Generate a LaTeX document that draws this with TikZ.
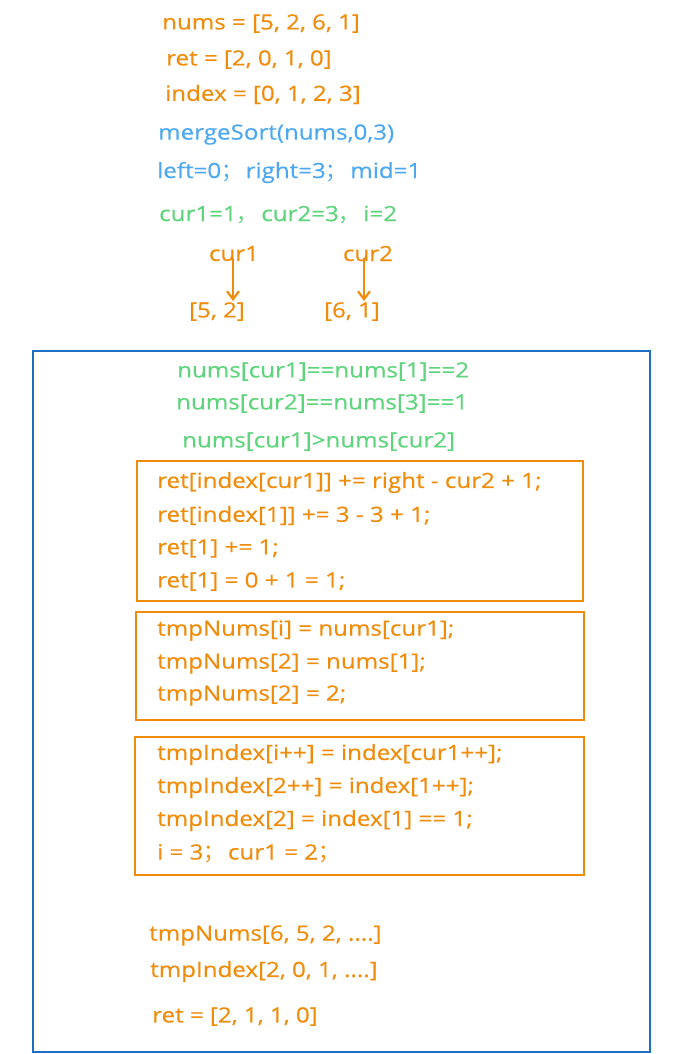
\documentclass[tikz,border=0pt]{standalone}
\usepackage{fontspec}
\setmainfont{Open Sans}[FakeStretch=1.15,FakeBold=0.4]
\newfontfamily\cjk{Noto Sans CJK SC}
\usetikzlibrary{arrows.meta}
\definecolor{orng}{HTML}{F08C0C}
\definecolor{bluet}{HTML}{4CA8F0}
\definecolor{grn}{HTML}{5ED47C}
\definecolor{frameblue}{HTML}{1E6FC4}
\begin{document}
\begin{tikzpicture}[x=1pt,y=-1pt,
  txt/.style={anchor=west,inner sep=0pt,yshift=-1.5pt,font=\fontsize{21}{24}\selectfont},
  otxt/.style={txt,text=orng},
  btxt/.style={txt,text=bluet},
  gtxt/.style={txt,text=grn},
  obox/.style={draw=orng,line width=2pt},
  arr/.style={draw=orng,line width=2.2pt,-{Straight Barb[length=8pt,width=12pt]}}]
\useasboundingbox (0,0) rectangle (687,1054);
% header
\node[otxt] (n1) at (162,22) {nums = [5, 2, 6, 1]};
\node[otxt] (n2) at (166,58) {ret = [2, 0, 1, 0]};
\node[otxt] (n3) at (165,93) {index = [0, 1, 2, 3]};
\node[btxt] (m1) at (158,133) {mergeSort(nums,0,3)};
\node[btxt] (m2) at (157,171) {left=0{\cjk ；}\,right=3{\cjk ；}\,mid=1};
\node[gtxt] (g1) at (159,213) {cur1=1{\cjk ，}\,cur2=3{\cjk ，}\,i=2};
\node[otxt,anchor=center] (c1) at (234,252) {cur1};
\node[otxt,anchor=center] (c2) at (368,252) {cur2};
\node[otxt,anchor=center] (a1) at (217,310) {[5, 2]};
\node[otxt,anchor=center] (a2) at (352,310) {[6, 1]};
\draw[arr] ([xshift=-1pt,yshift=-4pt]c1.center) -- ([xshift=16pt,yshift=1pt]a1.north);
\draw[arr] ([xshift=-4pt,yshift=-4pt]c2.center) -- ([xshift=12pt,yshift=1pt]a2.north);
% frame
\draw[frameblue,line width=2pt] (33,351) rectangle (650,1052);
\node[gtxt] (e1) at (177,370) {nums[cur1]==nums[1]==2};
\node[gtxt] (e2) at (176,402) {nums[cur2]==nums[3]==1};
\node[gtxt] (e3) at (182,440) {nums[cur1]>nums[cur2]};
% box 1
\draw[obox] (137,461) rectangle (583,601);
\node[otxt] (b11) at (157,481) {ret[index[cur1]] += right - cur2 + 1;};
\node[otxt] (b12) at (157,514) {ret[index[1]] += 3 - 3 + 1;};
\node[otxt] (b13) at (157,547) {ret[1] += 1;};
\node[otxt] (b14) at (157,580) {ret[1] = 0 + 1 = 1;};
% box 2
\draw[obox] (136,612) rectangle (584,720);
\node[otxt] (b21) at (157,629) {tmpNums[i] = nums[cur1];};
\node[otxt] (b22) at (157,662) {tmpNums[2] = nums[1];};
\node[otxt] (b23) at (157,694) {tmpNums[2] = 2;};
% box 3
\draw[obox] (135,737) rectangle (584,875);
\node[otxt] (b31) at (157,753) {tmpIndex[i++] = index[cur1++];};
\node[otxt] (b32) at (157,786) {tmpIndex[2++] = index[1++];};
\node[otxt] (b33) at (157,819) {tmpIndex[2] = index[1] == 1;};
\node[otxt] (b34) at (157,852) {i = 3{\cjk ；}\,cur1 = 2{\cjk ；}};
% bottom
\node[otxt] (r1) at (149,934) {tmpNums[6, 5, 2, ....]};
\node[otxt] (r2) at (150,970) {tmpIndex[2, 0, 1, ....]};
\node[otxt] (r3) at (152,1015) {ret = [2, 1, 1, 0]};
\end{tikzpicture}
\end{document}
